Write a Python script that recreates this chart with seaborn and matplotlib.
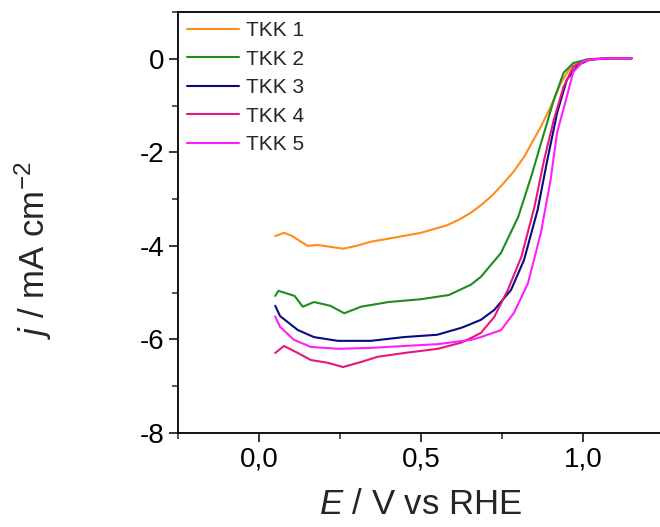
import pandas as pd
import matplotlib
matplotlib.use("Agg")
import matplotlib.pyplot as plt
from matplotlib.ticker import MultipleLocator, FuncFormatter
import seaborn as sns

# polarisation curves (E in V vs RHE, j in mA cm-2)
e_tkk1 = [0.05, 0.077, 0.10, 0.15, 0.18, 0.22, 0.26, 0.30, 0.346, 0.42, 0.50, 0.58, 0.62, 0.654, 0.685,
          0.72, 0.747, 0.785, 0.818, 0.87, 0.90, 0.932, 0.963, 0.994, 1.03, 1.08, 1.15]
j_tkk1 = [-3.79, -3.72, -3.78, -4.0, -3.98, -4.02, -4.06, -4.0, -3.91, -3.82, -3.72, -3.56, -3.43, -3.29, -3.13,
          -2.92, -2.72, -2.42, -2.10, -1.45, -1.03, -0.51, -0.17, -0.06, 0.0, 0.01, 0.01]

e_tkk2 = [0.05, 0.06, 0.11, 0.135, 0.17, 0.22, 0.263, 0.315, 0.40, 0.50, 0.586, 0.654, 0.685,
          0.747, 0.80, 0.84, 0.88, 0.91, 0.94, 0.97, 1.01, 1.08, 1.15]
j_tkk2 = [-5.07, -4.96, -5.07, -5.3, -5.2, -5.28, -5.44, -5.3, -5.2, -5.14, -5.05, -4.83, -4.66,
          -4.15, -3.38, -2.52, -1.58, -0.88, -0.30, -0.09, -0.02, 0.01, 0.01]

e_tkk3 = [0.05, 0.065, 0.12, 0.17, 0.243, 0.345, 0.447, 0.55, 0.625, 0.654, 0.685, 0.726, 0.778,
          0.818, 0.86, 0.89, 0.92, 0.95, 0.985, 1.02, 1.08, 1.15]
j_tkk3 = [-5.28, -5.5, -5.8, -5.95, -6.03, -6.03, -5.95, -5.9, -5.75, -5.67, -5.58, -5.37, -4.94,
          -4.30, -3.23, -2.16, -1.16, -0.45, -0.13, -0.02, 0.01, 0.01]

e_tkk4 = [0.05, 0.077, 0.12, 0.16, 0.213, 0.259, 0.306, 0.367, 0.448, 0.552, 0.623, 0.654, 0.685,
          0.726, 0.768, 0.81, 0.85, 0.88, 0.91, 0.94, 0.97, 1.01, 1.08, 1.15]
j_tkk4 = [-6.29, -6.14, -6.29, -6.44, -6.5, -6.59, -6.5, -6.37, -6.29, -6.2, -6.07, -5.97, -5.86,
          -5.52, -4.94, -4.23, -3.17, -2.16, -1.30, -0.6, -0.17, -0.02, 0.01, 0.01]

e_tkk5 = [0.05, 0.065, 0.108, 0.16, 0.244, 0.346, 0.448, 0.552, 0.654, 0.685, 0.747, 0.787, 0.83,
          0.87, 0.90, 0.92, 0.95, 0.97, 1.0, 1.04, 1.08, 1.15]
j_tkk5 = [-5.51, -5.73, -6.01, -6.16, -6.2, -6.18, -6.14, -6.1, -6.01, -5.95, -5.8, -5.43, -4.8,
          -3.72, -2.59, -1.58, -0.81, -0.28, -0.06, 0.0, 0.01, 0.01]

samples = ["TKK 1", "TKK 2", "TKK 3", "TKK 4", "TKK 5"]
colors = ["#FF8C1A", "#1E8C1E", "#0A0A80", "#E8167A", "#FF1EFF"]
curves = [(e_tkk1, j_tkk1), (e_tkk2, j_tkk2), (e_tkk3, j_tkk3), (e_tkk4, j_tkk4), (e_tkk5, j_tkk5)]

frames = []
for name, (e, j) in zip(samples, curves):
    frames.append(pd.DataFrame({"E": e, "j": j, "sample": name}))
df = pd.concat(frames, ignore_index=True)

sns.set_theme(style="ticks")
plt.rcParams["font.family"] = ["Liberation Sans", "DejaVu Sans"]
plt.rcParams["mathtext.fontset"] = "custom"
plt.rcParams["mathtext.rm"] = "Liberation Sans"
plt.rcParams["mathtext.it"] = "Liberation Sans:italic"
plt.rcParams["axes.unicode_minus"] = False

fig = plt.figure(figsize=(6.6, 5.27), dpi=100)
ax = fig.add_axes([178 / 660, 1 - 433 / 527, 486 / 660, 421 / 527])

sns.lineplot(data=df, x="E", y="j", hue="sample", palette=dict(zip(samples, colors)),
             estimator=None, sort=False, linewidth=1.5, ax=ax)

ax.set_xlim(-0.25, 1.25)
ax.set_ylim(-8, 1)
ax.xaxis.set_major_locator(MultipleLocator(0.5))
ax.xaxis.set_minor_locator(MultipleLocator(0.25))
ax.yaxis.set_major_locator(MultipleLocator(2))
ax.yaxis.set_minor_locator(MultipleLocator(1))
ax.xaxis.set_major_formatter(FuncFormatter(lambda v, p: f"{v:.1f}".replace(".", ",")))
ax.yaxis.set_major_formatter(FuncFormatter(lambda v, p: f"{v:.0f}"))
ax.tick_params(which="major", direction="out", length=6.5, width=1.1, labelsize=20, colors="black")
ax.tick_params(which="minor", direction="out", length=4.5, width=1.1)
ax.tick_params(top=False, right=False, which="both")
for side in ["left", "bottom", "top"]:
    ax.spines[side].set_linewidth(1.3)
    ax.spines[side].set_color("black")
ax.spines["right"].set_visible(False)

ax.set_xlabel(r"$E$ / V vs RHE", fontsize=25, labelpad=11)
ax.set_ylabel(r"$j$ / mA cm$^{-2}$", fontsize=25)
ax.yaxis.set_label_coords(-0.255, 0.433)

sns.move_legend(ax, "upper left", title=None, frameon=False, fontsize=15,
                handlelength=2.5, handletextpad=0.3, labelspacing=0.45,
                borderaxespad=0.2, borderpad=0.25)

fig.savefig("out.png", dpi=100)
